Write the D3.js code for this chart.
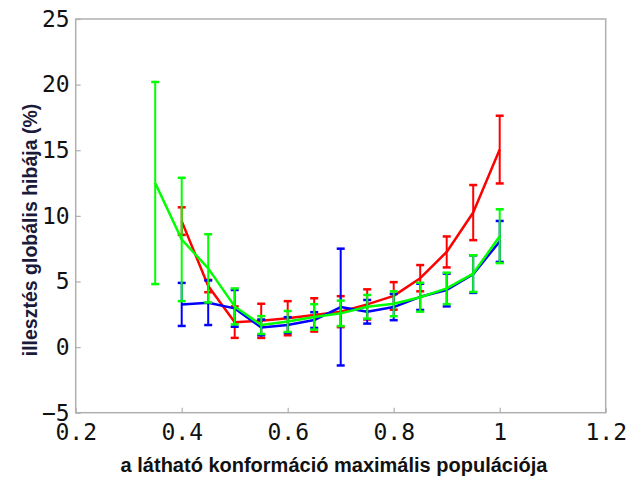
<!DOCTYPE html>
<html>
<head>
<meta charset="utf-8">
<script src="https://cdn.jsdelivr.net/npm/d3@7/dist/d3.min.js"></script>
<style>
  html, body { margin: 0; padding: 0; background: #fff; }
  svg { display: block; }
</style>
</head>
<body>
<svg id="chart" width="632" height="479"></svg>
<script>
// Fit error vs. maximal population of the visible conformation
const xTicks = [0.2, 0.4, 0.6, 0.8, 1, 1.2];
const yTicks = [-5, 0, 5, 10, 15, 20, 25];

const xRed = [0.4, 0.45, 0.5, 0.55, 0.6, 0.65, 0.7, 0.75, 0.8, 0.85, 0.9, 0.95, 1.0];
const redMean = [9.6, 4.65, 1.9, 2.0, 2.2, 2.45, 2.7, 3.25, 3.9, 5.25, 7.25, 10.25, 15.05];
const redErr = [1.05, 0.47, 1.2, 1.3, 1.3, 1.27, 1.18, 1.15, 1.05, 1.0, 1.18, 2.1, 2.58];

const xBlue = [0.4, 0.45, 0.5, 0.55, 0.6, 0.65, 0.7, 0.75, 0.8, 0.85, 0.9, 0.95, 1.0];
const blueMean = [3.25, 3.38, 2.95, 1.5, 1.68, 2.06, 3.05, 2.69, 3.05, 3.83, 4.35, 5.56, 8.05];
const blueErr = [1.64, 1.7, 1.4, 0.6, 0.6, 0.6, 4.45, 0.9, 1.0, 1.0, 1.25, 1.43, 1.56];

const xGreen = [0.35, 0.4, 0.45, 0.5, 0.55, 0.6, 0.65, 0.7, 0.75, 0.8, 0.85, 0.9, 0.95, 1.0];
const greenMean = [12.5, 8.2, 6.0, 3.1, 1.68, 1.95, 2.3, 2.57, 3.07, 3.3, 3.8, 4.47, 5.6, 8.45];
const greenErr = [7.7, 4.7, 2.6, 1.37, 0.68, 0.8, 0.97, 0.97, 0.9, 0.95, 1.1, 1.2, 1.4, 2.05];

const svg = d3.select("#chart");
const plotL = 75.7, plotR = 605.7, plotT = 19, plotB = 412.7;

const x = d3.scaleLinear().domain([0.2, 1.2]).range([plotL, plotR]);
const y = d3.scaleLinear().domain([-5, 25]).range([plotB, plotT]);

const axisColor = "#b0b0b0";
const monoFont = "'DejaVu Sans Mono', monospace";

// frame
svg.append("rect")
  .attr("x", plotL).attr("y", plotT)
  .attr("width", plotR - plotL).attr("height", plotB - plotT)
  .attr("fill", "none").attr("stroke", axisColor).attr("stroke-width", 1.5);

// bottom axis: inward ticks
const xAxis = svg.append("g").attr("transform", `translate(0,${plotB})`)
  .call(d3.axisBottom(x).tickValues(xTicks).tickSize(-5).tickPadding(11)
    .tickFormat(d3.format("~g")));
xAxis.select(".domain").remove();
xAxis.selectAll(".tick line").attr("stroke", axisColor).attr("stroke-width", 1.2);
xAxis.selectAll(".tick text")
  .attr("font-family", monoFont).attr("font-size", 23).attr("fill", "#111");

// left axis: inward ticks
const yAxis = svg.append("g").attr("transform", `translate(${plotL},0)`)
  .call(d3.axisLeft(y).tickValues(yTicks).tickSize(-5).tickPadding(6)
    .tickFormat(d3.format("~g")));
yAxis.select(".domain").remove();
yAxis.selectAll(".tick line").attr("stroke", axisColor).attr("stroke-width", 1.2);
yAxis.selectAll(".tick text")
  .attr("font-family", monoFont).attr("font-size", 23).attr("fill", "#111");

// series with error bars
const series = [
  { xs: xRed, mean: redMean, err: redErr, color: "#ff0000" },
  { xs: xBlue, mean: blueMean, err: blueErr, color: "#0000ff" },
  { xs: xGreen, mean: greenMean, err: greenErr, color: "#00ff00" }
];

const capHalf = 4;
const line = d3.line().x(d => x(d.x)).y(d => y(d.m));

series.forEach(s => {
  const pts = s.xs.map((v, i) => ({ x: v, m: s.mean[i], e: s.err[i] }));
  const g = svg.append("g");
  g.append("path").datum(pts)
    .attr("d", line).attr("fill", "none")
    .attr("stroke", s.color).attr("stroke-width", 2.5)
    .attr("stroke-linejoin", "round");
  const eb = g.selectAll(".eb").data(pts).enter().append("g");
  eb.append("line")
    .attr("x1", d => x(d.x)).attr("x2", d => x(d.x))
    .attr("y1", d => y(d.m - d.e)).attr("y2", d => y(d.m + d.e))
    .attr("stroke", s.color).attr("stroke-width", 2);
  [1, -1].forEach(sign => {
    eb.append("line")
      .attr("x1", d => x(d.x) - capHalf).attr("x2", d => x(d.x) + capHalf)
      .attr("y1", d => y(d.m + sign * d.e)).attr("y2", d => y(d.m + sign * d.e))
      .attr("stroke", s.color).attr("stroke-width", 2.5);
  });
});

// axis titles
svg.append("text")
  .attr("x", 334).attr("y", 472)
  .attr("text-anchor", "middle")
  .attr("font-family", "'Liberation Sans', Arial, sans-serif")
  .attr("font-weight", "bold").attr("font-size", 20).attr("fill", "#111")
  .text("a látható konformáció maximális populációja");

svg.append("text")
  .attr("transform", "translate(37,230) rotate(-90)")
  .attr("text-anchor", "middle")
  .attr("font-family", "'Liberation Sans', Arial, sans-serif")
  .attr("font-weight", "bold").attr("font-size", 19.5).attr("fill", "#1a1a3a")
  .text("illesztés globális hibája (%)");
</script>
</body>
</html>
